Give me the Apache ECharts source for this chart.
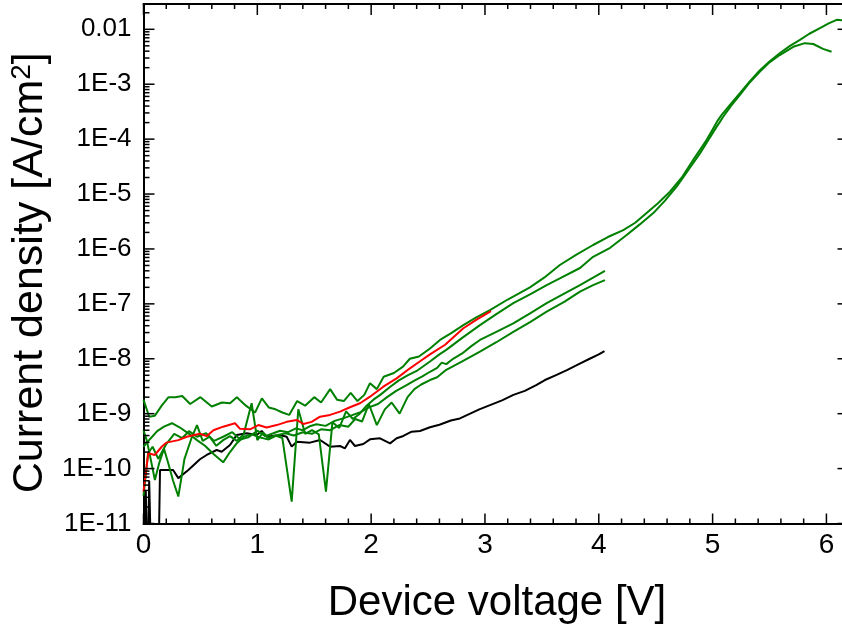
<!DOCTYPE html>
<html><head><meta charset="utf-8">
<script src="https://cdn.jsdelivr.net/npm/echarts@6/dist/echarts.min.js"></script>
<style>html,body{margin:0;padding:0;background:#fff}#c{width:842px;height:628px}</style>
</head><body><div id="c"></div>
<script>
// ---- axis ticks ----
const xMajorTicks = [0, 1, 2, 3, 4, 5, 6];
const xMinorTicks = [0.2,0.4,0.6,0.8,1.2,1.4,1.6,1.8,2.2,2.4,2.6,2.8,3.2,3.4,3.6,3.8,4.2,4.4,4.6,4.8,5.2,5.4,5.6,5.8];
const yMajorTicks = [1e-11,1e-10,1e-9,1e-8,1e-7,1e-6,1e-5,1e-4,1e-3,1e-2];
const yMinorMantissas = [2,3,4,5,6,7,8,9];
const yDecades = [-11,-10,-9,-8,-7,-6,-5,-4,-3,-2];
const yMinorTicks = [];
yDecades.forEach(d => yMinorMantissas.forEach(m => { const v = m * Math.pow(10, d); if (v < 0.0289) yMinorTicks.push(v); }));

// ---- data: [voltage (V), current density (A/cm^2)] ----
const black = [[0.0,1e-12],[0.02,4e-11],[0.035,1e-12],[0.05,6e-11],[0.07,1e-12],[0.13,1e-12],[0.145,9.4e-11],[0.26,9.4e-11],[0.306,6.7e-11],[0.394,9.4e-11],[0.496,1.48e-10],[0.555,1.77e-10],[0.643,2.18e-10],[0.687,2.03e-10],[0.76,2.69e-10],[0.819,4.09e-10],[0.907,4.39e-10],[0.994,4.09e-10],[1.038,4.84e-10],[1.082,3.81e-10],[1.199,4.09e-10],[1.258,3.81e-10],[1.302,2.51e-10],[1.346,3.09e-10],[1.463,2.97e-10],[1.551,3.32e-10],[1.639,2.51e-10],[1.727,2.58e-10],[1.77,2.34e-10],[1.814,3.32e-10],[1.858,2.58e-10],[1.931,2.81e-10],[1.99,3.41e-10],[2.078,3.56e-10],[2.166,2.88e-10],[2.224,3.56e-10],[2.283,3.93e-10],[2.356,4.7e-10],[2.429,4.84e-10],[2.517,5.65e-10],[2.6,6.3e-10],[2.7,7.5e-10],[2.78,8.2e-10],[2.87,1.0e-9],[2.95,1.2e-9],[3.05,1.45e-9],[3.15,1.75e-9],[3.25,2.2e-9],[3.35,2.6e-9],[3.45,3.3e-9],[3.527,4.1e-9],[3.62,5.0e-9],[3.72,6.2e-9],[3.82,7.9e-9],[3.92,1.0e-8],[4.0,1.2e-8],[4.05,1.38e-8]];
const red = [[0,3.8e-11],[0.042,1.9e-10],[0.1,1.77e-10],[0.16,2.5e-10],[0.2,2.97e-10],[0.306,3.3e-10],[0.38,3.8e-10],[0.496,4.3e-10],[0.555,3.9e-10],[0.614,5.0e-10],[0.70,5.8e-10],[0.804,6.7e-10],[0.848,5.3e-10],[0.936,5.2e-10],[1.009,6.2e-10],[1.082,5.6e-10],[1.17,6.2e-10],[1.258,7.1e-10],[1.346,7.7e-10],[1.404,6.5e-10],[1.477,7.1e-10],[1.551,8.8e-10],[1.639,9.5e-10],[1.727,1.09e-9],[1.814,1.31e-9],[1.902,1.55e-9],[1.99,2.04e-9],[2.107,3.1e-9],[2.224,4.4e-9],[2.341,6.7e-9],[2.43,9.0e-9],[2.517,1.2e-8],[2.65,1.8e-8],[2.81,3.6e-8],[2.93,5.2e-8],[3.053,7.4e-8]];
const greenA = [[0,1.8e-9],[0.05,8.8e-10],[0.1,9.2e-10],[0.16,1.4e-9],[0.22,2.0e-9],[0.28,2.0e-9],[0.34,2.1e-9],[0.41,1.5e-9],[0.5,2.0e-9],[0.6,1.35e-9],[0.69,1.6e-9],[0.76,1.55e-9],[0.82,2.0e-9],[0.9,1.4e-9],[0.98,1.05e-9],[1.04,1.9e-9],[1.1,1.3e-9],[1.16,1.2e-9],[1.22,1.05e-9],[1.28,9.5e-10],[1.35,1.7e-9],[1.42,1.4e-9],[1.5,2.0e-9],[1.56,1.6e-9],[1.64,2.8e-9],[1.7,1.8e-9],[1.76,1.7e-9],[1.82,2.4e-9],[1.88,1.7e-9],[1.94,2.2e-9],[1.99,3.6e-9],[2.05,2.8e-9],[2.11,4.7e-9],[2.2,5.5e-9],[2.28,7.2e-9],[2.34,1.0e-8],[2.42,1.1e-8],[2.517,1.54e-8],[2.605,2.2e-8],[2.7,2.9e-8],[2.81,4.1e-8],[2.92,5.6e-8],[3.044,7.7e-8],[3.2,1.2e-7],[3.395,2.0e-7],[3.52,3.0e-7],[3.658,5.1e-7],[3.8,7.8e-7],[3.95,1.18e-6],[4.08,1.65e-6],[4.215,2.2e-6],[4.32,3.0e-6],[4.42,4.5e-6],[4.52,6.8e-6],[4.625,1.1e-5],[4.73,2.0e-5],[4.83,4.2e-5],[4.948,9.7e-5],[5.0,1.5e-4],[5.04,2.1e-4],[5.08,2.76e-4],[5.16,4.4e-4],[5.24,6.9e-4],[5.33,1.15e-3],[5.416,1.8e-3],[5.5,2.6e-3],[5.592,3.7e-3],[5.68,5.0e-3],[5.767,6.4e-3],[5.85,8.3e-3],[5.943,1.05e-2],[6.02,1.28e-2],[6.09,1.49e-2],[6.14,1.46e-2]];
const greenB = [[0,5.0e-10],[0.03,3.2e-10],[0.06,1.6e-10],[0.1,6.2e-11],[0.14,1.3e-10],[0.18,2.3e-10],[0.22,1.2e-10],[0.26,6e-11],[0.306,3.1e-11],[0.36,1.5e-10],[0.42,3.5e-10],[0.47,6.2e-10],[0.52,3.2e-10],[0.58,3.8e-10],[0.64,2.6e-10],[0.7,3.3e-10],[0.76,3.9e-10],[0.82,3.2e-10],[0.88,4.2e-10],[0.95,1.55e-9],[1.0,3.3e-10],[1.05,4.5e-10],[1.1,3.6e-10],[1.16,4.0e-10],[1.22,3.6e-10],[1.302,2.5e-11],[1.36,1.2e-9],[1.42,4.3e-10],[1.48,5.0e-10],[1.54,4.2e-10],[1.603,3.8e-11],[1.66,7.0e-10],[1.72,5.5e-10],[1.78,1.1e-9],[1.84,8.0e-10],[1.9,1.0e-9],[1.96,1.4e-9],[2.02,1.8e-9],[2.08,2.2e-9],[2.16,3.0e-9],[2.24,4.0e-9],[2.32,5.0e-9],[2.4,6.0e-9],[2.517,8.9e-9],[2.6,1.2e-8],[2.66,1.45e-8],[2.8,2.4e-8],[2.956,4.1e-8],[3.1,6.5e-8],[3.249,1.03e-7],[3.4,1.5e-7],[3.542,2.2e-7],[3.658,2.9e-7],[3.835,4.5e-7],[3.95,7.2e-7],[4.1,1.05e-6],[4.245,1.8e-6],[4.36,2.8e-6],[4.479,4.5e-6],[4.58,7.5e-6],[4.684,1.36e-5],[4.79,2.8e-5],[4.889,5.5e-5],[4.96,9.5e-5],[5.036,1.69e-4],[5.06,2.0e-4],[5.09,2.5e-4],[5.16,4.0e-4],[5.24,6.4e-4],[5.33,1.1e-3],[5.416,1.7e-3],[5.5,2.5e-3],[5.59,3.4e-3],[5.709,4.8e-3],[5.81,5.6e-3],[5.884,5.4e-3],[5.97,4.4e-3],[6.045,3.9e-3]];
const greenC = [[0,3.2e-11],[0.04,1.9e-10],[0.08,2.5e-10],[0.13,1.5e-10],[0.2,2.8e-10],[0.27,4.3e-10],[0.34,3.6e-10],[0.4,4.8e-10],[0.47,3.8e-10],[0.55,4.4e-10],[0.62,3.2e-10],[0.7,3.8e-10],[0.78,4.6e-10],[0.85,3.4e-10],[0.92,3.7e-10],[1.0,4.9e-10],[1.07,3.9e-10],[1.14,4.4e-10],[1.2,4.9e-10],[1.27,4.6e-10],[1.34,5.4e-10],[1.4,5.0e-10],[1.46,5.9e-10],[1.52,6.4e-10],[1.6,6.0e-10],[1.68,7.4e-10],[1.76,8.3e-10],[1.84,9.5e-10],[1.9,1.05e-9],[1.98,1.3e-9],[2.06,1.5e-9],[2.14,2.0e-9],[2.22,2.6e-9],[2.3,3.2e-9],[2.38,4.0e-9],[2.45,4.8e-9],[2.517,5.8e-9],[2.58,6.8e-9],[2.62,8.5e-9],[2.66,8.0e-9],[2.72,1.0e-8],[2.8,1.25e-8],[2.88,1.7e-8],[2.956,2.2e-8],[3.1,3.1e-8],[3.249,4.4e-8],[3.4,6.8e-8],[3.542,1.03e-7],[3.7,1.55e-7],[3.835,2.2e-7],[3.95,3.0e-7],[4.054,4.0e-7]];
const greenD = [[0,2.5e-10],[0.06,3.5e-10],[0.12,4.8e-10],[0.18,5.8e-10],[0.25,6.7e-10],[0.32,5.6e-10],[0.4,4.3e-10],[0.47,3.3e-10],[0.54,2.6e-10],[0.62,1.8e-10],[0.7,1.3e-10],[0.76,2.0e-10],[0.82,2.9e-10],[0.88,3.8e-10],[0.95,4.2e-10],[1.02,3.7e-10],[1.1,3.4e-10],[1.18,4.1e-10],[1.25,4.4e-10],[1.32,4.0e-10],[1.4,4.6e-10],[1.48,4.3e-10],[1.56,5.2e-10],[1.64,5.0e-10],[1.72,6.2e-10],[1.8,5.8e-10],[1.86,8.0e-10],[1.92,7.2e-10],[1.98,1.5e-9],[2.05,6.2e-10],[2.12,1.2e-9],[2.18,1.6e-9],[2.25,1.0e-9],[2.32,2.0e-9],[2.38,2.8e-9],[2.44,3.4e-9],[2.517,4.1e-9],[2.58,4.6e-9],[2.66,6.3e-9],[2.8,9.0e-9],[2.956,1.35e-8],[3.1,2.0e-8],[3.249,3.1e-8],[3.4,4.7e-8],[3.542,7.2e-8],[3.7,1.1e-7],[3.835,1.67e-7],[3.95,2.2e-7],[4.054,2.7e-7]];

const X_MIN = 0, X_MAX = 6.15, Y_MIN = 1e-11, Y_MAX = 0.0289;
const FONT = 'Liberation Sans, Arial, sans-serif';
const GREEN = '#008000';
const GRID = { left: 143.5, top: 4, width: 700, height: 519.5 };

function yFmt(v) {
  const e = Math.round(Math.log10(v));
  return e === -2 ? '0.01' : '1E' + e;
}
const AXIS_LINE = { show: true, onZero: false, lineStyle: { color: '#000', width: 2 } };

const chart = echarts.init(document.getElementById('c'));
function line(data, color) {
  return { type: 'line', data: data, xAxisIndex: 0, yAxisIndex: 0, showSymbol: false, symbol: 'none',
    clip: true, lineStyle: { color: color, width: 2 }, itemStyle: { color: color } };
}
chart.setOption({
  animation: false,
  grid: { left: GRID.left, top: GRID.top, width: GRID.width, height: GRID.height, containLabel: false, outerBoundsMode: 'none' },
  xAxis: [
    { type: 'value', position: 'bottom', min: X_MIN, max: X_MAX, axisLine: AXIS_LINE, axisTick: { show: false }, splitLine: { show: false },
      axisLabel: { show: true, customValues: xMajorTicks, fontSize: 28, color: '#000', margin: 8, fontFamily: FONT },
      name: 'Device voltage [V]', nameLocation: 'middle', nameGap: 59,
      nameTextStyle: { fontSize: 42, color: '#000', fontFamily: FONT, padding: [0, 0, 0, 7] } },
    { type: 'value', position: 'top', min: X_MIN, max: X_MAX, axisLine: AXIS_LINE, axisTick: { show: false },
      axisLabel: { show: false }, splitLine: { show: false } }
  ],
  yAxis: [
    { type: 'log', logBase: 10, position: 'left', min: Y_MIN, max: Y_MAX, axisLine: AXIS_LINE, axisTick: { show: false }, splitLine: { show: false },
      axisLabel: { show: true, customValues: yMajorTicks, formatter: yFmt, fontSize: 26, color: '#000', margin: 12, fontFamily: FONT },
      name: '{t|Current density [A/cm}{s|2}{t|]}', nameLocation: 'middle', nameGap: 72,
      nameTextStyle: { color: '#000', padding: [0, 18, 0, 0],
        rich: { t: { fontSize: 43, fontFamily: FONT, color: '#000' },
                s: { fontSize: 28, fontFamily: FONT, color: '#000', verticalAlign: 'top' } } } },
    { type: 'log', logBase: 10, position: 'right', min: Y_MIN, max: Y_MAX, axisLine: AXIS_LINE, axisTick: { show: false },
      axisLabel: { show: false }, splitLine: { show: false } }
  ],
  series: [
    line(black, '#000000'),
    line(greenD, GREEN),
    line(greenC, GREEN),
    line(greenB, GREEN),
    line(greenA, GREEN),
    line(red, '#ff0000')
  ]
});

// ---- tick marks, positioned through the chart's own axis scales ----
let rect = { x: GRID.left, y: GRID.top, width: GRID.width, height: GRID.height };
try {
  const r = chart.getModel().getComponent('grid', 0).coordinateSystem.getRect();
  if (r && isFinite(r.x) && isFinite(r.y) && isFinite(r.width) && isFinite(r.height)) rect = r;
} catch (e) {}
const xL = rect.x, xR = rect.x + rect.width, yT = rect.y, yB = rect.y + rect.height;
function xPix(v) {
  let p = chart.convertToPixel({ xAxisIndex: 0 }, v);
  if (Array.isArray(p)) p = p[0];
  if (!isFinite(p)) p = xL + (v - X_MIN) / (X_MAX - X_MIN) * (xR - xL);
  return p;
}
function yPix(v) {
  let p = chart.convertToPixel({ yAxisIndex: 0 }, v);
  if (Array.isArray(p)) p = p[1];
  if (!isFinite(p)) p = yB - (Math.log10(v) - Math.log10(Y_MIN)) / (Math.log10(Y_MAX) - Math.log10(Y_MIN)) * (yB - yT);
  return p;
}
const tickEls = [];
function seg(x1, y1, x2, y2) {
  if ([x1, y1, x2, y2].every(isFinite)) {
    tickEls.push({ type: 'line', silent: true, z: 50, shape: { x1: x1, y1: y1, x2: x2, y2: y2 }, style: { stroke: '#000', lineWidth: 1.5 } });
  }
}
xMajorTicks.forEach(v => { const x = xPix(v); seg(x, yB, x, yB - 10); seg(x, yT, x, yT + 11); });
xMinorTicks.forEach(v => { const x = xPix(v); seg(x, yB, x, yB - 5); seg(x, yT, x, yT + 5); });
yMajorTicks.forEach(v => { const y = yPix(v); seg(xL, y, xL + 11, y); seg(xR, y, xR - 6, y); });
yMinorTicks.forEach(v => { const y = yPix(v); seg(xL, y, xL + 6, y); });
chart.setOption({ graphic: { elements: tickEls } });
</script>
</body></html>
